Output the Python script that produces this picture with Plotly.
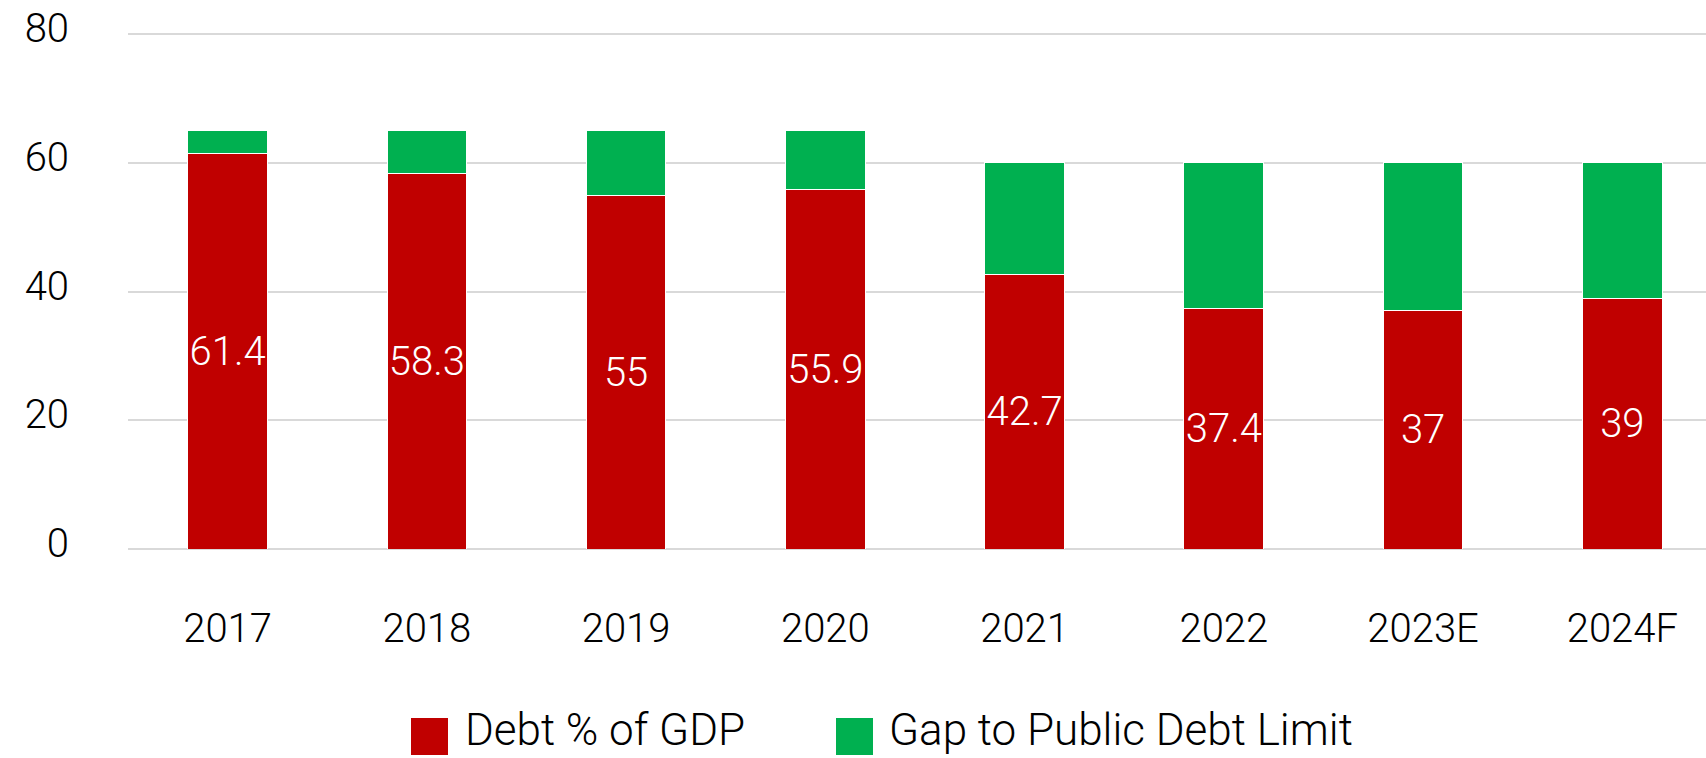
import plotly.graph_objects as go

# Public debt (% of GDP) and remaining room under the public debt ceiling
years = ["2017", "2018", "2019", "2020", "2021", "2022", "2023E", "2024F"]
debt_pct_gdp = [61.4, 58.3, 55, 55.9, 42.7, 37.4, 37, 39]
gap_to_limit = [3.6, 6.7, 10, 9.1, 17.3, 22.6, 23, 21]
y_ticks = [0, 20, 40, 60, 80]

RED = "#C00000"
GREEN = "#00B050"
FONT = "Roboto"

W, H = 1706, 758
M_L, M_R, M_T, M_B = 128, 0, 33, 209
PLOT_W = W - M_L - M_R
PLOT_H = H - M_T - M_B


def px_x(px):
    return (px - M_L) / PLOT_W


def px_y(py):
    return (H - M_B - py) / PLOT_H


fig = go.Figure()
fig.add_trace(go.Bar(
    x=years, y=debt_pct_gdp, name="Debt % of GDP",
    marker=dict(color=RED, line=dict(color="white", width=1)),
    text=debt_pct_gdp, texttemplate="%{y}",
    textposition="inside", insidetextanchor="middle", textangle=0,
    constraintext="none",
    textfont=dict(family=FONT, size=40, color="white", weight=300),
))
fig.add_trace(go.Bar(
    x=years, y=gap_to_limit, name="Gap to Public Debt Limit",
    marker=dict(color=GREEN, line=dict(color="white", width=1)),
))

# Legend drawn as large swatches with labels below the plot
legend_items = [("Debt % of GDP", RED, 411, 468), ("Gap to Public Debt Limit", GREEN, 836, 892)]
shapes, annotations = [], []
for label, color, sx, tx in legend_items:
    shapes.append(dict(type="rect", xref="paper", yref="paper",
                       x0=px_x(sx), x1=px_x(sx + 37), y0=px_y(755), y1=px_y(718),
                       fillcolor=color, line=dict(width=0)))
    annotations.append(dict(text=label, xref="paper", yref="paper",
                            x=px_x(tx - 4), y=px_y(730), xanchor="left", yanchor="middle",
                            showarrow=False, borderpad=0,
                            font=dict(family=FONT, size=44, color="black", weight=300)))

fig.update_layout(
    barmode="stack",
    bargap=0.6,
    width=W, height=H,
    margin=dict(l=M_L, r=M_R, t=M_T, b=M_B),
    paper_bgcolor="white", plot_bgcolor="white",
    showlegend=False,
    shapes=shapes, annotations=annotations,
    font=dict(family=FONT, color="black"),
)
fig.update_xaxes(
    range=[-0.5, 7.42], showgrid=False, showline=False, zeroline=False,
    ticks="", ticklabelstandoff=52,
    tickfont=dict(family=FONT, size=40, color="black", weight=300),
)
fig.update_yaxes(
    range=[0, 80.2], tickvals=y_ticks, showgrid=True, gridcolor="#d9d9d9", gridwidth=2,
    zeroline=True, zerolinecolor="#d9d9d9", zerolinewidth=2, showline=False,
    ticks="", ticklabelstandoff=58, ticklabelshift=-6,
    tickfont=dict(family=FONT, size=40, color="black", weight=300),
)

fig.write_html("out.html")
